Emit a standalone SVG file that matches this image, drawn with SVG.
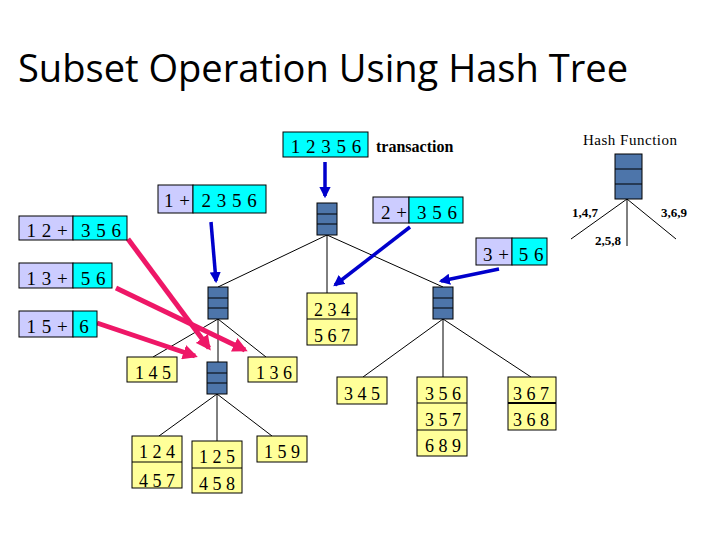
<svg xmlns="http://www.w3.org/2000/svg" width="720" height="540" viewBox="0 0 720 540">
<defs>
<style>
.lav{fill:#ccccff;stroke:#000;stroke-width:1}
.cy{fill:#00ffff;stroke:#000;stroke-width:1}
.yl{fill:#ffff99;stroke:#000;stroke-width:1}
.hn{fill:#4d75aa;stroke:#000;stroke-width:1}
.dv{stroke:#000;stroke-width:1}
.t{font-family:"Liberation Serif","Times New Roman",serif;font-size:19px;fill:#000;text-anchor:middle;word-spacing:1px}
.ty{font-family:"Liberation Serif","Times New Roman",serif;font-size:18px;fill:#000;text-anchor:middle}
.ln{stroke:#000;stroke-width:1;fill:none}
.ba{stroke:#0000cc;stroke-width:3.5;fill:none;marker-end:url(#bh)}
.pa{stroke:#ee1767;stroke-width:5;fill:none;marker-end:url(#ph)}
</style>
<marker id="bh" viewBox="0 0 10 10" refX="8" refY="5" markerWidth="3.2" markerHeight="3.2" orient="auto" markerUnits="strokeWidth">
<path d="M0,0 L10,5 L0,10 z" fill="#0000cc"/>
</marker>
<marker id="ph" viewBox="0 0 10 10" refX="8" refY="5" markerWidth="3" markerHeight="3" orient="auto" markerUnits="strokeWidth">
<path d="M0,0 L10,5 L0,10 z" fill="#ee1767"/>
</marker>
<g id="hashcell">
<rect class="hn" x="0" y="0" width="20" height="32"/>
<line class="dv" x1="0" y1="11" x2="20" y2="11"/>
<line class="dv" x1="0" y1="21" x2="20" y2="21"/>
</g>
</defs>
<rect x="0" y="0" width="720" height="540" fill="#fff"/>
<text x="18" y="82" font-family="'Open Sans','Noto Sans',sans-serif" font-size="38" textLength="610" lengthAdjust="spacingAndGlyphs" fill="#000">Subset Operation Using Hash Tree</text>

<g id="connectors">
<line class="ln" x1="327" y1="235" x2="218" y2="287"/>
<line class="ln" x1="327" y1="235" x2="327" y2="293"/>
<line class="ln" x1="327" y1="235" x2="443" y2="287"/>
<line class="ln" x1="218" y1="319" x2="153" y2="357"/>
<line class="ln" x1="218" y1="319" x2="218" y2="362"/>
<line class="ln" x1="218" y1="319" x2="266" y2="357"/>
<line class="ln" x1="217" y1="394" x2="159" y2="436"/>
<line class="ln" x1="217" y1="394" x2="217" y2="441"/>
<line class="ln" x1="217" y1="394" x2="272" y2="436"/>
<line class="ln" x1="443" y1="319" x2="363" y2="377"/>
<line class="ln" x1="443" y1="319" x2="443" y2="377"/>
<line class="ln" x1="443" y1="319" x2="531" y2="377"/>
<line class="ln" x1="627" y1="199" x2="571" y2="239"/>
<line class="ln" x1="627" y1="199" x2="627" y2="246"/>
<line class="ln" x1="627" y1="199" x2="676" y2="239"/>
<line class="ba" x1="325" y1="162" x2="325" y2="196"/>
<line class="ba" x1="211" y1="222" x2="216" y2="281"/>
<line class="ba" x1="410" y1="227" x2="335" y2="285"/>
<line class="ba" x1="499" y1="269" x2="441" y2="281"/>
<line class="pa" x1="128" y1="239" x2="209" y2="348"/>
<line class="pa" x1="116" y1="288" x2="245" y2="350"/>
<line class="pa" x1="97" y1="323" x2="195" y2="356"/>
</g>

<g id="transaction">
<rect class="cy" x="283" y="132" width="85" height="25"/>
<text class="t" x="326" y="153">1 2 3 5 6</text>
<text x="376" y="152" font-family="'Liberation Serif',serif" font-size="16" font-weight="bold">transaction</text>
</g>

<g id="sub-1-2356">
<rect class="lav" x="158" y="185" width="35" height="28"/>
<rect class="cy" x="193" y="185" width="73" height="28"/>
<text class="t" x="177" y="207">1 +</text>
<text class="t" x="229" y="207">2 3 5 6</text>
</g>
<g id="sub-12-356">
<rect class="lav" x="19" y="216" width="54" height="24"/>
<rect class="cy" x="73" y="216" width="54" height="24"/>
<text class="t" x="47" y="237">1 2 +</text>
<text class="t" x="101" y="237">3 5 6</text>
</g>
<g id="sub-13-56">
<rect class="lav" x="19" y="263" width="54" height="25"/>
<rect class="cy" x="73" y="263" width="39" height="25"/>
<text class="t" x="47" y="285">1 3 +</text>
<text class="t" x="93" y="285">5 6</text>
</g>
<g id="sub-15-6">
<rect class="lav" x="19" y="311" width="54" height="26"/>
<rect class="cy" x="73" y="311" width="24" height="26"/>
<text class="t" x="47" y="333">1 5 +</text>
<text class="t" x="84" y="333">6</text>
</g>
<g id="sub-2-356">
<rect class="lav" x="373" y="197" width="36" height="26"/>
<rect class="cy" x="409" y="197" width="54" height="26"/>
<text class="t" x="394" y="219">2 +</text>
<text class="t" x="437" y="219">3 5 6</text>
</g>
<g id="sub-3-56">
<rect class="lav" x="476" y="238" width="36" height="27"/>
<rect class="cy" x="512" y="238" width="35" height="27"/>
<text class="t" x="496" y="261">3 +</text>
<text class="t" x="531" y="261">5 6</text>
</g>

<g id="root"><use href="#hashcell" x="317" y="203"/></g>
<g id="node-1"><use href="#hashcell" x="208" y="287"/></g>
<g id="node-3"><use href="#hashcell" x="433" y="287"/></g>
<g id="node-12"><use href="#hashcell" x="207" y="362"/></g>

<g id="leaf-234">
<rect class="yl" x="307" y="293" width="50" height="52"/>
<line class="dv" x1="307" y1="319" x2="357" y2="319"/>
<text class="ty" x="332" y="316">2 3 4</text>
<text class="ty" x="332" y="342">5 6 7</text>
</g>
<g id="leaf-145">
<rect class="yl" x="127" y="357" width="50" height="25"/>
<text class="ty" x="153" y="379">1 4 5</text>
</g>
<g id="leaf-136">
<rect class="yl" x="248" y="357" width="49" height="25"/>
<text class="ty" x="274" y="379">1 3 6</text>
</g>
<g id="leaf-124">
<rect class="yl" x="132" y="436" width="50" height="52"/>
<line class="dv" x1="132" y1="462" x2="182" y2="462"/>
<text class="ty" x="157" y="458">1 2 4</text>
<text class="ty" x="157" y="487">4 5 7</text>
</g>
<g id="leaf-125">
<rect class="yl" x="192" y="441" width="50" height="52"/>
<line class="dv" x1="192" y1="468" x2="242" y2="468"/>
<text class="ty" x="217" y="463">1 2 5</text>
<text class="ty" x="217" y="490">4 5 8</text>
</g>
<g id="leaf-159">
<rect class="yl" x="257" y="436" width="50" height="26"/>
<text class="ty" x="282" y="458">1 5 9</text>
</g>
<g id="leaf-345">
<rect class="yl" x="337" y="377" width="50" height="27"/>
<text class="ty" x="362" y="400">3 4 5</text>
</g>
<g id="leaf-356">
<rect class="yl" x="417" y="377" width="50" height="79"/>
<line class="dv" x1="417" y1="403" x2="467" y2="403"/>
<line class="dv" x1="417" y1="430" x2="467" y2="430"/>
<text class="ty" x="443" y="400">3 5 6</text>
<text class="ty" x="443" y="426">3 5 7</text>
<text class="ty" x="443" y="452">6 8 9</text>
</g>
<g id="leaf-367">
<rect class="yl" x="508" y="377" width="48" height="53"/>
<line x1="508" y1="403" x2="556" y2="403" stroke="#000" stroke-width="2"/>
<text class="ty" x="531" y="400">3 6 7</text>
<text class="ty" x="531" y="426">3 6 8</text>
</g>

<g id="hash-function">
<text x="630" y="145" font-family="'Liberation Serif',serif" font-size="15" text-anchor="middle" textLength="94" lengthAdjust="spacing">Hash Function</text>
<rect class="hn" x="615" y="154" width="27" height="45"/>
<line class="dv" x1="615" y1="169" x2="642" y2="169"/>
<line class="dv" x1="615" y1="184" x2="642" y2="184"/>
<text x="572" y="217" font-family="'Liberation Serif',serif" font-size="13" font-weight="bold">1,4,7</text>
<text x="661" y="217" font-family="'Liberation Serif',serif" font-size="13" font-weight="bold">3,6,9</text>
<text x="595" y="245" font-family="'Liberation Serif',serif" font-size="13" font-weight="bold">2,5,8</text>
</g>
</svg>
